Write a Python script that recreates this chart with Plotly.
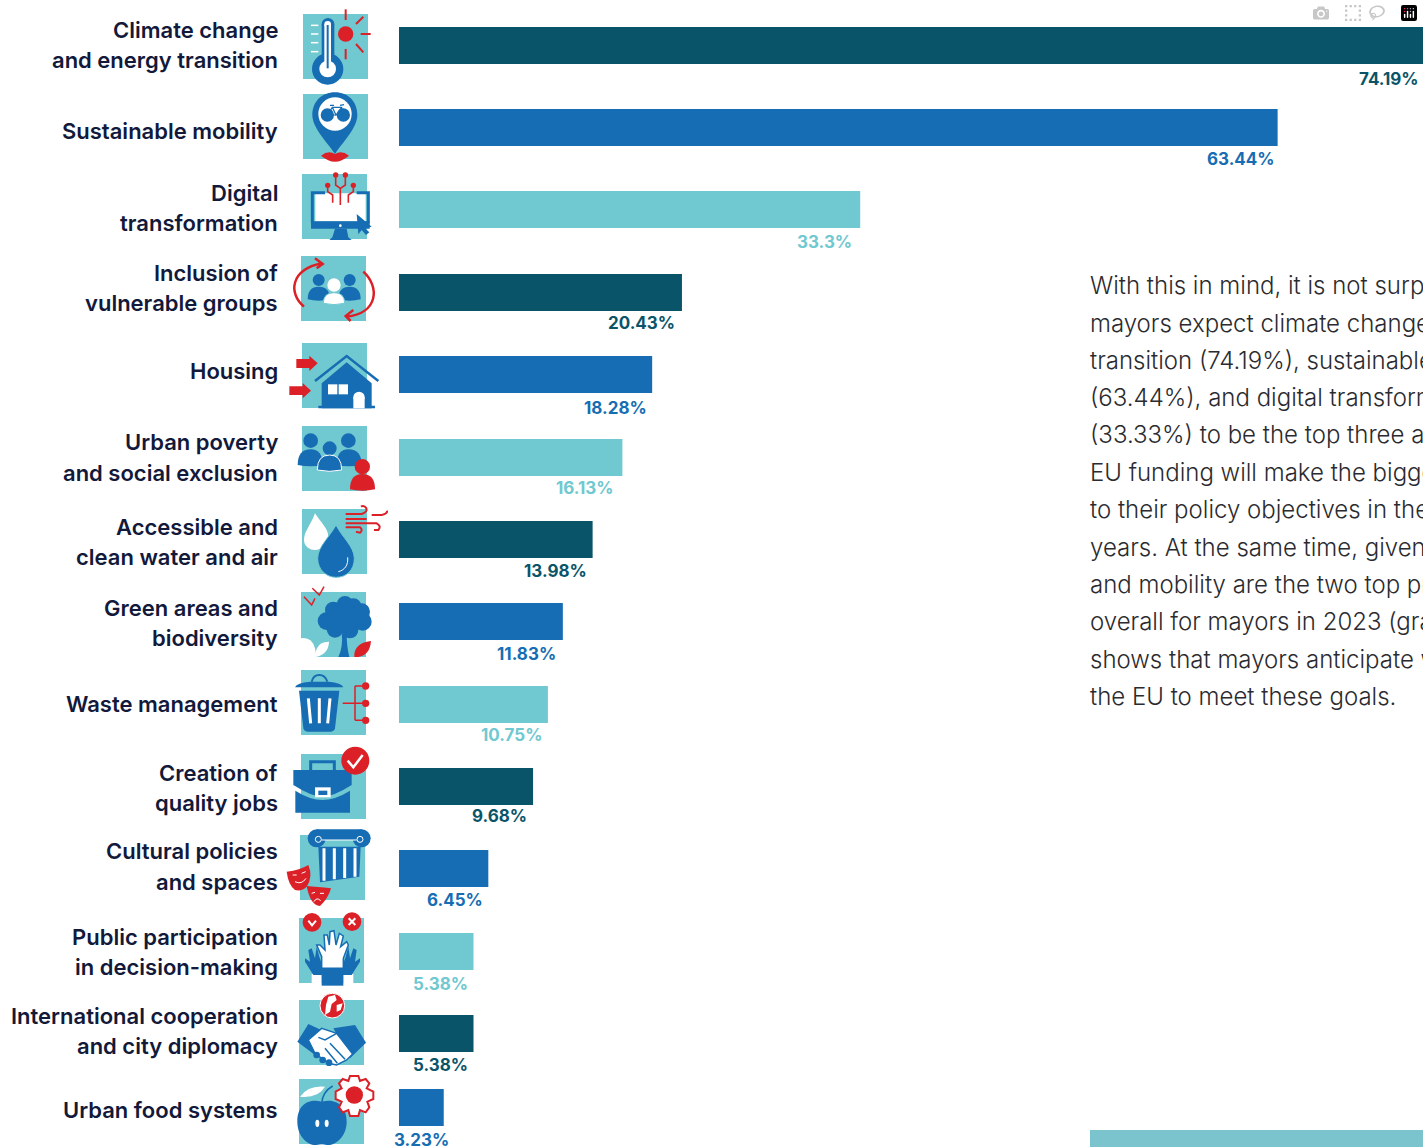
import re
import plotly.graph_objects as go

# ---------- data ----------
categories = ["Climate change and energy transition", "Sustainable mobility", "Digital transformation",
              "Inclusion of vulnerable groups", "Housing", "Urban poverty and social exclusion",
              "Accessible and clean water and air", "Green areas and biodiversity", "Waste management",
              "Creation of quality jobs", "Cultural policies and spaces", "Public participation in decision-making",
              "International cooperation and city diplomacy", "Urban food systems"]
values = [74.19, 63.44, 33.3, 20.43, 18.28, 16.13, 13.98, 11.83, 10.75, 9.68, 6.45, 5.38, 5.38, 3.23]
value_labels = ["74.19%", "63.44%", "33.3%", "20.43%", "18.28%", "16.13%", "13.98%", "11.83%", "10.75%",
                "9.68%", "6.45%", "5.38%", "5.38%", "3.23%"]
label_lines = [["Climate change", "and energy transition"], ["Sustainable mobility"], ["Digital", "transformation"],
               ["Inclusion of", "vulnerable groups"], ["Housing"], ["Urban poverty", "and social exclusion"],
               ["Accessible and", "clean water and air"], ["Green areas and", "biodiversity"], ["Waste management"],
               ["Creation of", "quality jobs"], ["Cultural policies", "and spaces"],
               ["Public participation", "in decision-making"], ["International cooperation", "and city diplomacy"],
               ["Urban food systems"]]
paragraph = ["With this in mind, it is not surprising", "mayors expect climate change and energy",
             "transition (74.19%), sustainable mobility", "(63.44%), and digital transformation",
             "(33.33%) to be the top three areas", "EU funding will make the biggest difference",
             "to their policy objectives in the next", "years. At the same time, given that climate",
             "and mobility are the two top priorities", "overall for mayors in 2023 (graph", 
             "shows that mayors anticipate working with", "the EU to meet these goals."]

# ---------- layout constants ----------
W, H = 1423, 1147
PX_PER_PCT = 13.85
BAR_X0 = 399
row_y = [45.5, 127.5, 209.5, 292.5, 374.5, 457.5, 539.5, 621.5, 704.5, 786.5, 868.5, 951.5, 1033.5, 1107.5]
value_label_y = [79, 159, 242, 323, 408, 488, 571, 654, 735, 816, 900, 984, 1065, 1140]
value_label_right = [1421, 1277, 854, 677, 649, 616, 589, 558, 544, 529, 485, 470, 470, 451]
text_line_y = [[30, 60], [131], [193, 223], [273, 303], [371], [442, 473], [527, 557], [608, 638], [704],
               [773, 803], [851, 882], [937, 967], [1016, 1046], [1110]]
para_y = [285, 323, 360, 397, 434, 472, 509, 547, 584, 621, 659, 696]

DARK, BLUE, TEAL, RED, NAVY = "#0a5469", "#166db3", "#70c8d0", "#dc2027", "#12193a"
bar_colors = [DARK, BLUE, TEAL] * 4 + [DARK, BLUE]
bar_colors = [DARK, BLUE, TEAL, DARK, BLUE, TEAL, DARK, BLUE, TEAL, DARK, BLUE, TEAL, DARK, BLUE]

FONT = "Inter"
fig = go.Figure()
fig.add_trace(go.Bar(x=values, y=row_y, orientation="h", width=37, marker=dict(color=bar_colors, line_width=0),
                     customdata=categories, hovertemplate="%{customdata}: %{x}%<extra></extra>"))

annotations = []
for i, lines in enumerate(label_lines):
    for t, y in zip(lines, text_line_y[i]):
        annotations.append(dict(xref="x2", yref="y", x=279.5, y=y, text=t, showarrow=False, xanchor="right",
                                yanchor="middle", font=dict(family=FONT, size=22, color=NAVY, weight=600)))
for i, t in enumerate(value_labels):
    annotations.append(dict(xref="x2", yref="y", x=value_label_right[i], y=value_label_y[i], text=t, showarrow=False,
                            xanchor="right", yanchor="middle",
                            font=dict(family=FONT, size=17, color=bar_colors[i], weight=700)))
for t, y in zip(paragraph, para_y):
    annotations.append(dict(xref="x2", yref="y", x=1088, y=y, text=t, showarrow=False, xanchor="left",
                            yanchor="middle", font=dict(family=FONT, size=24, color="#2b2b2f", weight=300)))

# ---------- icon helpers: coordinates as read on 3x crops ----------
shapes = []
ORIGIN = [0, 0]
def X(v): return ORIGIN[0] + v / 3
def Y(v): return ORIGIN[1] + v / 3
def base(**k):
    return dict(xref="x2", yref="y", layer="above", **k)
def rect(x0, y0, x1, y1, fill):
    shapes.append(base(type="rect", x0=X(x0), y0=Y(y0), x1=X(x1), y1=Y(y1), fillcolor=fill, line_width=0))
def circ(cx, cy, r, fill, stroke=None, w=0, ry=None):
    ry = r if ry is None else ry
    shapes.append(base(type="circle", x0=X(cx - r), x1=X(cx + r), y0=Y(cy - ry), y1=Y(cy + ry), fillcolor=fill,
                       line=dict(color=stroke or fill, width=w)))
def path(d, fill=None, stroke=None, w=0):
    toks = re.findall(r"[A-Za-z]|-?\d+\.?\d*", d)
    out, odd = [], True
    for t in toks:
        if t.isalpha():
            out.append(t)
        else:
            out.append(f"{X(float(t)) if odd else Y(float(t)):.2f}")
            odd = not odd
    s = base(type="path", path=" ".join(out), line=dict(color=stroke or "rgba(0,0,0,0)", width=w))
    s["fillcolor"] = fill if fill else "rgba(0,0,0,0)"
    shapes.append(s)
def line(d, color, w):
    path(d, None, color, w)
def person(cx, hy, r, x0, x1, top, bot, color, outline=None):
    circ(cx, hy, r, color)
    path(f"M {x0} {bot} Q {x0} {top} {cx} {top} Q {x1} {top} {x1} {bot} Q {cx} {bot+8} {x0} {bot} Z", color, outline, 1 if outline else 0)

WHITE = "#ffffff"
# 1 thermometer
ORIGIN[:] = [0, 0]
rect(909, 42, 1104, 237, TEAL)
circ(983, 207, 47, BLUE); rect(965, 73, 1003, 200, BLUE); circ(984, 73, 19, BLUE)
circ(983, 207, 25, WHITE); rect(973, 73, 993, 200, WHITE); circ(983, 73, 10, WHITE); rect(980, 75, 986, 205, BLUE)
for yy in (76, 102, 128, 155):
    line(f"M 933 {yy} L 955 {yy}", WHITE, 1.5)
circ(1037, 102, 23, RED)
for d in ("M 1037 28 L 1037 60", "M 1068 72 L 1090 50", "M 1082 102 L 1112 102", "M 1068 132 L 1090 157", "M 1037 147 L 1037 178"):
    line(d, RED, 2)
# 2 pin
rect(909, 282, 1104, 477, TEAL)
path("M 1005 277 C 965 277 937 305 937 345 C 937 385 985 430 1005 462 C 1025 430 1072 385 1072 345 C 1072 305 1045 277 1005 277 Z", BLUE)
circ(1005, 342, 50, WHITE); circ(982, 345, 20, BLUE); circ(1030, 345, 20, BLUE)
line("M 982 345 L 997 322 L 1025 322 L 1030 345 M 997 322 L 1008 345 L 1025 322 M 982 345 L 1008 345 M 990 316 L 1002 316 M 1020 316 L 1032 314", BLUE, 1.2)
path("M 963 467 Q 985 450 1005 462 Q 1025 450 1047 467 Q 1025 485 1005 485 Q 985 485 963 467 Z", RED)
# 3 monitor
rect(906, 522, 1101, 717, TEAL)
rect(946, 580, 1097, 664, WHITE)
line("M 975 578 L 937 578 L 937 670 M 1105 670 L 1105 578 L 1070 578", BLUE, 3)
rect(933, 664, 1109, 686, BLUE)
path("M 1005 686 L 1040 686 L 1045 712 L 1055 720 L 988 720 L 997 712 Z", BLUE)
circ(1021, 677, 4, WHITE)
for c in ((983, 556), (1007, 525), (1036, 525), (1060, 556)):
    circ(c[0], c[1], 8, RED)
line("M 983 556 L 983 575 L 998 585 L 998 608 M 1007 525 L 1007 555 L 1021 565 L 1021 615 M 1036 525 L 1036 555 L 1021 565 M 1060 556 L 1060 575 L 1045 585 L 1045 608", RED, 1.6)
path("M 1070 642 L 1115 680 L 1095 685 L 1108 697 L 1098 705 L 1085 690 L 1075 703 Z", BLUE)
# 4 people with arrows
rect(903, 768, 1098, 963, TEAL)
person(956, 840, 18, 923, 990, 860, 898, BLUE); person(1049, 840, 18, 1015, 1082, 860, 898, BLUE)
person(1002, 855, 20, 970, 1034, 878, 910, WHITE, TEAL)
line("M 912 920 C 865 880 870 810 965 790 M 945 775 L 968 792 L 950 805 M 1090 815 C 1140 860 1135 940 1040 950 M 1060 930 L 1037 948 L 1052 963", RED, 2.5)
# 5 house
ORIGIN[:] = [0, 340]
rect(906, 9, 1101, 204, TEAL)
path("M 889 57 L 928 57 L 928 47 L 953 70 L 928 93 L 928 84 L 889 84 Z", RED)
path("M 868 139 L 908 139 L 908 129 L 933 152 L 908 175 L 908 165 L 868 165 Z", RED)
line("M 945 123 L 1040 48 L 1135 123", BLUE, 2.5)
path("M 965 205 L 965 130 L 1040 67 L 1115 130 L 1115 205 Z", BLUE)
rect(955, 197, 1125, 205, BLUE)
rect(984, 133, 1012, 163, WHITE); rect(1016, 133, 1044, 163, WHITE)
rect(1060, 172, 1094, 205, WHITE); circ(1077, 172, 17, WHITE)
# 6 people
rect(906, 258, 1101, 453, TEAL)
person(932, 302, 22, 893, 968, 328, 375, BLUE); person(1045, 302, 22, 1010, 1085, 328, 375, BLUE)
person(989, 325, 21, 952, 1025, 345, 390, BLUE, WHITE)
person(1087, 380, 23, 1050, 1125, 402, 448, RED)
# 7 water and wind
rect(906, 507, 1101, 702, TEAL)
path("M 945 520 C 930 560 912 575 912 600 C 912 620 930 630 945 630 C 965 630 985 610 985 590 C 985 565 960 545 945 520 Z", WHITE)
path("M 1008 555 C 990 590 953 620 953 655 C 953 690 980 712 1008 712 C 1040 712 1063 690 1063 655 C 1063 620 1025 590 1008 555 Z", BLUE, TEAL, 1)
line("M 1043 652 C 1045 675 1035 690 1015 695", WHITE, 1)
line("M 1037 522 L 1085 522 Q 1105 515 1098 503 Q 1090 495 1083 500 M 1037 537 L 1100 537 M 1115 525 L 1145 525 Q 1165 520 1160 512 M 1037 550 L 1130 550 Q 1145 558 1135 570 L 1122 570 M 1037 562 L 1080 562 Q 1090 570 1080 578 L 1068 575", RED, 2)
# 8 tree
rect(903, 756, 1098, 951, TEAL)
for c in ((1035, 793, 25), (1000, 810, 25), (980, 843, 27), (1005, 868, 25), (1050, 870, 25), (1088, 845, 27), (1085, 815, 25), (1060, 800, 25), (1035, 835, 45)):
    circ(c[0], c[1], c[2], BLUE)
path("M 1015 951 Q 1030 920 1025 880 L 1040 880 Q 1040 920 1048 951 Z", BLUE)
path("M 903 895 Q 935 890 945 925 Q 950 951 945 951 L 903 951 Z", WHITE)
path("M 945 945 Q 950 905 987 905 Q 985 945 945 951 Z", WHITE)
path("M 1063 951 Q 1060 910 1113 903 Q 1110 945 1075 951 Z", RED)
line("M 912 770 L 935 795 L 945 775 M 937 745 L 958 765 L 972 740", RED, 1.5)
# 9 bin
ORIGIN[:] = [0, 660]
rect(903, 30, 1098, 225, TEAL)
path("M 885 82 Q 890 68 930 65 L 985 65 Q 1025 68 1030 82 Z", BLUE)
line("M 935 65 Q 940 45 958 45 Q 975 45 982 65", BLUE, 2)
path("M 897 92 L 1018 92 L 1005 205 Q 1003 215 990 215 L 925 215 Q 912 215 910 205 Z", BLUE)
line("M 925 115 L 932 190 M 958 115 L 958 190 M 990 115 L 983 190", WHITE, 3)
line("M 1028 130 L 1097 130 M 1065 78 L 1065 181 M 1065 78 L 1097 78 M 1065 181 L 1097 181", RED, 1.5)
for yy in (78, 130, 181):
    circ(1097, yy, 11, RED)
# 10 briefcase
rect(903, 282, 1098, 477, TEAL)
line("M 932 330 L 932 305 L 1003 305 L 1003 330", BLUE, 3)
path("M 880 330 L 1055 330 L 1055 375 Q 1000 410 967 410 Q 935 410 880 375 Z", BLUE)
path("M 886 392 Q 930 420 967 420 Q 1005 420 1050 392 L 1050 458 L 886 458 Z", BLUE)
rect(945, 382, 992, 412, WHITE); rect(955, 392, 982, 405, BLUE)
circ(1066, 302, 42, RED)
line("M 1043 302 L 1060 322 L 1088 285", WHITE, 2.5)
# 11 column and masks
rect(900, 525, 1095, 720, TEAL)
circ(950, 535, 27, BLUE); circ(1085, 535, 27, BLUE); rect(950, 508, 1085, 540, BLUE)
line("M 965 540 L 1070 540", WHITE, 1)
circ(955, 538, 9, BLUE, WHITE, 1); circ(1080, 538, 9, BLUE, WHITE, 1)
path("M 955 560 L 1082 560 L 1078 650 L 960 667 Z", BLUE)
line("M 972 565 L 972 662 M 1003 565 L 1003 658 M 1034 565 L 1034 654 M 1065 565 L 1065 650", WHITE, 3)
path("M 860 635 Q 900 630 925 615 Q 940 650 920 680 Q 905 695 885 690 Q 865 675 860 635 Z", RED)
path("M 920 678 Q 950 680 993 685 Q 985 715 960 738 Q 930 735 920 678 Z", RED)
line("M 885 665 Q 905 675 918 655 M 878 645 L 890 645 M 905 640 L 917 635 M 935 700 L 945 697 M 960 700 L 972 700 M 942 725 Q 950 710 962 722", WHITE, 1)
# 12 hands
ORIGIN[:] = [0, 900]
rect(897, 54, 1092, 249, TEAL)
circ(936, 67, 28, RED); line("M 925 62 L 936 76 L 948 62", WHITE, 2)
circ(1056, 65, 28, RED); line("M 1046 55 L 1066 75 M 1066 55 L 1046 75", WHITE, 2)
rect(935, 222, 965, 257, WHITE); rect(1030, 222, 1060, 257, WHITE)
path("M 940 225 L 915 185 L 915 175 L 930 185 L 925 150 L 935 145 L 945 175 L 950 140 L 958 170 L 970 205 L 970 225 Z", BLUE)
path("M 1055 225 L 1080 185 L 1080 175 L 1065 185 L 1070 150 L 1060 145 L 1050 175 L 1045 140 L 1037 170 L 1025 205 L 1025 225 Z", BLUE)
rect(965, 205, 1030, 257, BLUE)
path("M 965 205 L 965 170 L 950 135 L 960 135 L 975 150 L 972 105 L 982 105 L 988 135 L 990 95 L 1002 92 L 1008 135 L 1018 100 L 1030 108 L 1022 140 L 1040 125 L 1045 135 L 1030 175 L 1030 205 Z", WHITE, BLUE, 1.5)
# 13 handshake and globe
rect(897, 300, 1092, 495, TEAL)
circ(997, 317, 37, RED, WHITE, 1)
path("M 985 290 L 1005 285 L 1010 300 L 995 312 L 990 335 L 975 345 L 978 315 Z", WHITE)
path("M 1010 315 L 1028 310 L 1022 330 L 1010 335 Z", WHITE)
path("M 892 425 L 925 372 L 975 395 L 945 465 Z", BLUE)
path("M 1098 428 L 1065 375 L 1030 380 L 1000 385 L 1050 475 Z", BLUE)
path("M 925 420 L 965 385 L 1010 400 L 1058 462 L 1040 480 L 1010 495 L 985 490 L 945 460 Z", WHITE, BLUE, 1.5)
line("M 1010 400 L 975 420 L 955 412 M 990 430 L 1035 478 M 975 445 L 1012 490", BLUE, 1.5)
circ(950, 465, 10, BLUE); circ(968, 480, 10, BLUE); circ(987, 488, 10, BLUE)
# 14 apple and gear
rect(897, 537, 1092, 732, TEAL)
path("M 965 605 C 930 595 892 610 892 665 C 892 710 925 738 950 735 Q 965 730 980 735 C 1005 738 1040 710 1040 665 C 1040 610 1000 595 965 605 Z", BLUE)
line("M 965 610 Q 968 575 998 558", BLUE, 1.5)
path("M 900 590 Q 925 555 975 560 Q 955 595 900 590 Z", WHITE)
circ(952, 670, 6, WHITE, ry=11); circ(980, 670, 6, WHITE, ry=11)
path("M 1050 528 L 1075 528 L 1080 543 L 1097 537 L 1108 550 L 1100 565 L 1120 575 L 1120 597 L 1102 605 L 1108 622 L 1097 637 L 1080 630 L 1075 648 L 1050 648 L 1045 630 L 1028 637 L 1017 622 L 1025 605 L 1007 597 L 1007 575 L 1025 565 L 1017 550 L 1028 537 L 1045 543 Z", WHITE, RED, 2)
circ(1063, 585, 26, RED)

# bottom-right block
shapes.append(base(type="rect", x0=1090, x1=1423, y0=1130, y1=1147, fillcolor="#7cc4cd", line_width=0))

fig.update_layout(
    width=W, height=H, margin=dict(l=0, r=0, t=0, b=0), paper_bgcolor="white", plot_bgcolor="white",
    showlegend=False, barmode="overlay", shapes=shapes, annotations=annotations,
    xaxis=dict(range=[-BAR_X0 / PX_PER_PCT, (W - BAR_X0) / PX_PER_PCT], visible=False, fixedrange=True),
    xaxis2=dict(range=[0, W], visible=False, overlaying="x", fixedrange=True),
    yaxis=dict(range=[H, 0], visible=False, fixedrange=True),
)
fig.write_html("out.html", post_script="document.body.style.margin='0';document.body.style.overflow='hidden';")
